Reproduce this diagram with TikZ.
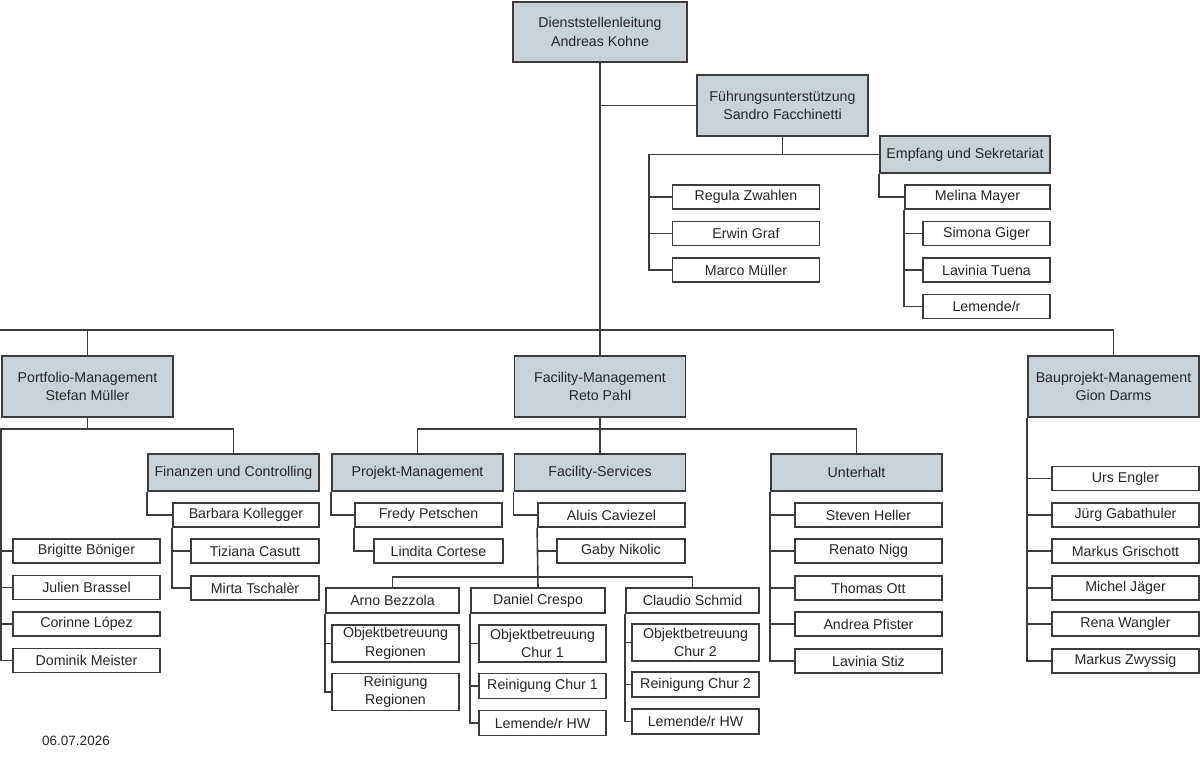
\documentclass[tikz,border=0pt]{standalone}
\usepackage{fontspec}
\setmainfont{Liberation Sans}
\definecolor{unitfill}{HTML}{C8D2D9}
\definecolor{boxline}{HTML}{3C3C3C}

\begin{document}
\begin{tikzpicture}[
  x=1pt, y=-1pt,
  font=\fontsize{14.2}{18.5}\selectfont,
  box/.style={draw=boxline, line width=1.7pt, align=center, inner sep=0.5pt, text=black!85},
  head/.style={box, fill=unitfill, minimum width=171, minimum height=61},
  sub/.style={box, fill=unitfill, minimum width=171, minimum height=37},
  pers/.style={box, fill=white, minimum width=147, minimum height=24},
  short/.style={box, fill=white, minimum width=128, minimum height=24},
  task/.style={box, fill=white, minimum width=127, minimum height=37},
  wire/.style={draw=boxline, line width=1.6pt}]

  \useasboundingbox (0,0) rectangle (1200,756);

  % leadership
  \node[head, minimum width=174, minimum height=60] (dl) at (600,32) {Dienststellenleitung\\Andreas Kohne};
  \node[head] (fu) at (782.5,105.5) {Führungsunterstützung\\Sandro Facchinetti};
  \node[sub, minimum width=170] (em) at (965,154.5) {Empfang und Sekretariat};
  \node[pers] (rz) at (746,197) {Regula Zwahlen};
  \node[pers] (eg) at (746,233.5) {Erwin Graf};
  \node[pers] (mm) at (746,270) {Marco Müller};
  \node[pers, minimum width=145] (ml) at (977.5,197) {Melina Mayer};
  \node[short, minimum width=127] (sg) at (986.5,233.5) {Simona Giger};
  \node[short, minimum width=127] (lt) at (986.5,270) {Lavinia Tuena};
  \node[short, minimum width=127] (le) at (986.5,306.5) {Lemende/r};

  % departments
  \node[head] (pm) at (87.5,386.5) {Portfolio-Management\\Stefan Müller};
  \node[head] (fm) at (600,386.5) {Facility-Management\\Reto Pahl};
  \node[head] (bp) at (1113.5,386.5) {Bauprojekt-Management\\Gion Darms};

  % Portfolio-Management
  \node[sub] (fi) at (233.5,472.5) {Finanzen und Controlling};
  \node[pers, minimum width=146] (bk) at (246,515) {Barbara Kollegger};
  \node[short] (tc) at (255,551) {Tiziana Casutt};
  \node[short] (mt) at (255,588) {Mirta Tschalèr};
  \node[pers] (bb) at (86.5,551) {Brigitte Böniger};
  \node[pers] (jb) at (86.5,587.5) {Julien Brassel};
  \node[pers] (cl) at (86.5,624) {Corinne López};
  \node[pers] (dm) at (86.5,660.5) {Dominik Meister};

  % Facility-Management
  \node[sub] (pj) at (417.5,472.5) {Projekt-Management};
  \node[sub] (fs) at (600,472.5) {Facility-Services};
  \node[sub] (un) at (856.5,472.5) {Unterhalt};
  \node[pers] (fp) at (428.5,515) {Fredy Petschen};
  \node[short, minimum width=129] (lc) at (438.5,551) {Lindita Cortese};
  \node[pers] (ac) at (611.5,515) {Aluis Caviezel};
  \node[short] (gn) at (621,551) {Gaby Nikolic};
  \node[pers, minimum width=133, minimum height=25] (ab) at (392.5,600.5) {Arno Bezzola};
  \node[pers, minimum width=134, minimum height=25] (dc) at (538,600.5) {Daniel Crespo};
  \node[pers, minimum width=133, minimum height=25] (cs) at (692.5,600.5) {Claudio Schmid};
  \node[task] (or) at (395.5,643.5) {Objektbetreuung\\Regionen};
  \node[task] (rr) at (395.5,692) {Reinigung\\Regionen};
  \node[task] (o1) at (542.5,643.5) {Objektbetreuung\\Chur 1};
  \node[short, minimum width=127, minimum height=25] (r1) at (542.5,686) {Reinigung Chur 1};
  \node[short, minimum width=127, minimum height=25] (l1) at (542.5,723) {Lemende/r HW};
  \node[task] (o2) at (695.5,642.5) {Objektbetreuung\\Chur 2};
  \node[short, minimum width=127, minimum height=25] (r2) at (695.5,684.5) {Reinigung Chur 2};
  \node[short, minimum width=127, minimum height=25] (l2) at (695.5,721.5) {Lemende/r HW};
  \node[pers] (sh) at (868.5,515) {Steven Heller};
  \node[pers] (rn) at (868.5,551) {Renato Nigg};
  \node[pers] (to) at (868.5,588) {Thomas Ott};
  \node[pers] (ap) at (868.5,624) {Andrea Pfister};
  \node[pers] (ls) at (868.5,661) {Lavinia Stiz};

  % Bauprojekt-Management
  \node[pers] (ue) at (1125.5,478.5) {Urs Engler};
  \node[pers] (jg) at (1125.5,515) {Jürg Gabathuler};
  \node[pers] (mg) at (1125.5,551) {Markus Grischott};
  \node[pers] (mj) at (1125.5,588) {Michel Jäger};
  \node[pers] (rw) at (1125.5,624) {Rena Wangler};
  \node[pers] (mz) at (1125.5,661) {Markus Zwyssig};

  \node[font=\fontsize{13.5}{16}\selectfont, text=black!85] (date) at (76,741) {06.07.2026};

  % bus lines
  \coordinate (bus) at (0,330);
  \coordinate (pmJ) at (0,429);
  \coordinate (fmJ) at (0,429);
  \coordinate (fsJ) at (0,577);
  \coordinate (fuL) at (649,0);

  \draw[wire] (dl.south) -- (fm.north);
  \draw[wire] (pm.north) |- (bus) -| (bp.north);
  \draw[wire] (dl.south |- fu.west) -- (fu.west);

  % Fuehrungsunterstuetzung
  \draw[wire] (fu.south) |- (em.west);
  \draw[wire] (fu.south |- em.west) -- (fuL |- em.west) -- (fuL |- mm.west) -- (mm.west);
  \foreach \n in {rz,eg} \draw[wire] (fuL |- \n.west) -- (\n.west);
  \draw[wire] (em.south west) |- (ml.west);
  \draw[wire] (ml.south west) |- (le.west);
  \foreach \n in {sg,lt} \draw[wire] (ml.south west |- \n.west) -- (\n.west);

  % Portfolio-Management
  \draw[wire] (pm.south) -- (pm.south |- pmJ);
  \draw[wire] (fi.north) |- (pm.west |- pmJ) -- (pm.west |- dm.west) -- (dm.west);
  \foreach \n in {bb,jb,cl} \draw[wire] (pm.west |- \n.west) -- (\n.west);
  \draw[wire] (fi.south west) |- (bk.west);
  \draw[wire] (bk.south west) |- (mt.west);
  \draw[wire] (bk.south west |- tc.west) -- (tc.west);

  % Facility-Management
  \draw[wire] (fm.south) -- (fs.north);
  \draw[wire] (pj.north) |- (fm.south |- fmJ) -| (un.north);
  \draw[wire] (pj.south west) |- (fp.west);
  \draw[wire] (fp.south west) |- (lc.west);
  \draw[wire] (fs.south west) |- (ac.west);
  \draw[wire] (ac.south west) -- (dc.north);
  \draw[wire] (ac.south west |- gn.west) -- (gn.west);
  \draw[wire] (ab.north) |- (dc.north |- fsJ) -| (cs.north);
  \draw[wire] (ab.south west) |- (rr.west);
  \draw[wire] (ab.south west |- or.west) -- (or.west);
  \draw[wire] (dc.south west) |- (l1.west);
  \foreach \n in {o1,r1} \draw[wire] (dc.south west |- \n.west) -- (\n.west);
  \draw[wire] (cs.south west) |- (l2.west);
  \foreach \n in {o2,r2} \draw[wire] (cs.south west |- \n.west) -- (\n.west);
  \draw[wire] (un.south west) |- (ls.west);
  \foreach \n in {sh,rn,to,ap} \draw[wire] (un.south west |- \n.west) -- (\n.west);

  % Bauprojekt-Management
  \draw[wire] (bp.south west) |- (mz.west);
  \foreach \n in {ue,jg,mg,mj,rw} \draw[wire] (bp.south west |- \n.west) -- (\n.west);
\end{tikzpicture}
\end{document}
